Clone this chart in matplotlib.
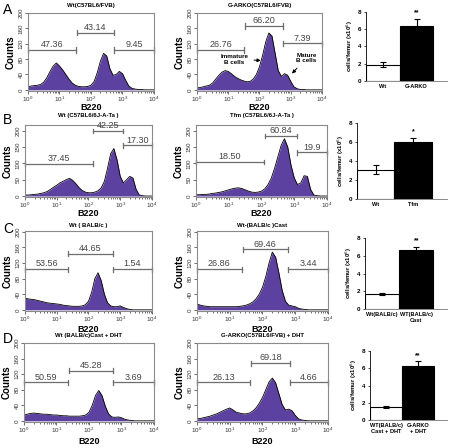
import numpy as np
import matplotlib
matplotlib.use("Agg")
import matplotlib.pyplot as plt
from matplotlib.ticker import LogLocator, NullFormatter

plt.rcParams["font.family"] = ["Liberation Sans", "DejaVu Sans"]

# ========================
# data
# ========================
# log10 B220 grid, 10^0 .. 10^4
LOGX = np.linspace(0, 4, 41)

A1 = [8, 10, 11, 12, 14, 20, 32, 48, 62, 70, 62, 52, 40, 28, 18, 12, 9, 8, 8, 9,
      12, 22, 45, 75, 95, 88, 55, 38, 40, 48, 42, 25, 10, 4, 2, 1, 1, 0, 0, 0, 0]
A2 = [5, 6, 8, 10, 12, 18, 28, 38, 46, 50, 48, 42, 35, 30, 26, 23, 21, 22, 28, 40,
      60, 90, 125, 148, 140, 95, 50, 35, 42, 38, 22, 8, 3, 1, 1, 0, 0, 0, 0, 0, 0]
B1 = [3, 3, 4, 5, 6, 8, 10, 14, 20, 27, 33, 40, 45, 50, 54, 48, 38, 26, 17, 12,
      10, 10, 12, 16, 25, 45, 85, 130, 145, 110, 60, 40, 50, 60, 55, 20, 3, 1, 0, 0, 0]
B2 = [4, 4, 5, 5, 6, 8, 9, 11, 13, 16, 19, 22, 24, 25, 23, 19, 15, 12, 11, 12,
      15, 22, 35, 55, 85, 120, 155, 175, 150, 95, 55, 35, 40, 62, 60, 20, 3, 1, 0, 0, 0]
C1 = [30, 28, 27, 26, 24, 22, 20, 18, 17, 16, 15, 14, 12, 11, 10, 9, 9, 9, 10, 13,
      22, 45, 80, 95, 75, 40, 18, 10, 8, 8, 10, 6, 3, 1, 0, 0, 0, 0, 0, 0, 0]
C2 = [15, 12, 10, 9, 8, 8, 8, 8, 8, 8, 8, 8, 8, 9, 10, 12, 15, 20, 28, 40,
      58, 85, 120, 148, 135, 95, 50, 22, 12, 10, 8, 4, 2, 1, 0, 0, 0, 0, 0, 0, 0]
D1 = [15, 17, 19, 20, 19, 18, 17, 17, 16, 15, 15, 14, 13, 13, 12, 12, 12, 12, 13, 15,
      22, 40, 65, 78, 65, 38, 18, 10, 9, 10, 8, 4, 2, 1, 0, 0, 0, 0, 0, 0, 0]
D2 = [5, 6, 8, 10, 12, 15, 18, 22, 26, 30, 33, 28, 22, 20, 18, 18, 20, 25, 33, 45,
      60, 80, 100, 110, 98, 70, 42, 28, 30, 26, 14, 5, 2, 1, 0, 0, 0, 0, 0, 0, 0]

# gates: (label, log start, log end, counts level)
GATES_A1 = [("47.36", 0.0, 1.53, 104), ("43.14", 1.55, 2.73, 149), ("9.45", 2.73, 4.0, 104)]
GATES_A2 = [("26.76", 0.0, 1.51, 104), ("66.20", 1.54, 2.75, 166), ("7.39", 2.75, 4.0, 121)]
GATES_B1 = [("37.45", 0.0, 2.14, 99), ("42.25", 2.14, 3.1, 199), ("17.30", 3.1, 4.0, 155)]
GATES_B2 = [("18.50", 0.0, 2.08, 104), ("60.84", 2.12, 3.07, 184), ("19.9", 3.07, 4.0, 133)]
GATES_C1 = [("53.56", 0.0, 1.37, 104), ("44.65", 1.37, 2.76, 144), ("1.54", 2.76, 4.0, 104)]
GATES_C2 = [("26.86", 0.0, 1.36, 104), ("69.46", 1.39, 2.78, 155), ("3.44", 2.78, 4.0, 104)]
GATES_D1 = [("50.59", 0.0, 1.36, 99), ("45.28", 1.40, 2.75, 129), ("3.69", 2.75, 4.0, 99)]
GATES_D2 = [("26.13", 0.0, 1.63, 99), ("69.18", 1.66, 2.85, 148), ("4.66", 2.85, 4.0, 99)]

TITLES = ["Wt(C57BL6/FVB)", "G-ARKO(C57BL6/FVB)",
          "Wt (C57BL6/6J-A-Ta )", "Tfm (C57BL6/6J-A-Ta )",
          "Wt ( BALB/c )", "Wt-(BALB/c )Cast",
          "Wt (BALB/c)Cast + DHT", "G-ARKO(C57BL6/FVB) + DHT"]

# bar charts: cells/femur (x10^6)
BAR_LABELS = [["Wt", "G-ARKO"], ["Wt", "Tfm"],
              ["Wt(BALB/c)", "WT(BALB/c)\nCast"],
              ["WT(BALB/c)\nCast + DHT", "G-ARKO\n+ DHT"]]
BAR_MEAN = [[1.9, 6.4], [3.1, 6.05], [1.7, 6.65], [1.5, 6.3]]
BAR_ERR = [[0.3, 0.8], [0.45, 0.35], [0.15, 0.3], [0.1, 0.5]]
BAR_SIG = ["**", "*", "**", "**"]

# ========================
# layout (pixels)
# ========================
W, H = 452, 448
PURPLE = "#5d41a0"
GATE = "#6e6e6e"


def px_axes(fig, x0, x1, y0, y1):
    return fig.add_axes([x0 / W, 1 - y1 / H, (x1 - x0) / W, (y1 - y0) / H])


def hist_panel(ax, counts, gates, ytop, yticks):
    x = 10 ** LOGX
    ax.fill_between(x, counts, 0, color=PURPLE, lw=0)
    ax.plot(x, counts, color="black", lw=0.6)
    ax.set_xscale("log")
    ax.set_xlim(1, 1e4)
    ax.set_ylim(-3, ytop)
    ax.set_yticks(yticks)
    ax.set_yticklabels([str(v) for v in yticks], rotation=90, va="center")
    ax.xaxis.set_major_locator(LogLocator(base=10, numticks=5))
    ax.xaxis.set_minor_locator(LogLocator(base=10, subs=np.arange(2, 10), numticks=10))
    ax.xaxis.set_minor_formatter(NullFormatter())
    ax.tick_params(labelsize=4.5, length=2, width=0.5, pad=1, colors="#333333")
    ax.tick_params(which="minor", length=1.2, width=0.4)
    for s in ax.spines.values():
        s.set_color("#8a8a8a")
        s.set_linewidth(0.8)
    ax.set_ylabel("Counts", fontsize=7, fontweight="bold", labelpad=2)
    for lab, a, b, lev in gates:
        xa, xb = 10 ** a, 10 ** b
        ax.plot([xa, xb], [lev, lev], color=GATE, lw=0.9, clip_on=False)
        ax.plot([xa, xa], [lev - 7, lev + 7], color=GATE, lw=0.9, clip_on=False)
        ax.plot([xb, xb], [lev - 7, lev + 7], color=GATE, lw=0.9, clip_on=False)
        ax.text(10 ** ((a + b) / 2), lev + 2, lab, ha="center", va="bottom",
                fontsize=6.5, color="#444444")


def bar_panel(ax, labels, means, errs, sig):
    ax.bar([0, 1], means, width=1.0, color=["white", "black"],
           edgecolor="black", linewidth=0.8)
    ax.errorbar([0, 1], means, yerr=errs, fmt="none", ecolor="black",
                elinewidth=0.8, capsize=2, capthick=0.8)
    ax.text(1, means[1] + errs[1] + 0.3, sig, ha="center", va="bottom",
            fontsize=5, fontweight="bold")
    ax.set_xlim(-0.5, 1.9)
    ax.set_ylim(0, 8)
    ax.set_yticks([0, 2, 4, 6, 8])
    ax.set_xticks([0, 1])
    ax.set_xticklabels(labels, fontsize=4.1, fontweight="bold", linespacing=1.3)
    ax.tick_params(axis="y", labelsize=4.5, length=1.5, width=0.5, pad=2)
    ax.tick_params(axis="x", length=0, pad=2)
    for lab in ax.get_yticklabels():
        lab.set_fontweight("bold")
    ax.spines["top"].set_visible(False)
    ax.spines["right"].set_visible(False)
    ax.spines["left"].set_linewidth(0.6)
    ax.spines["bottom"].set_linewidth(0.6)
    ax.spines["bottom"].set_color("#777777")
    ax.set_ylabel("cells/femur (x10$^6$)", fontsize=4.3, fontweight="bold", labelpad=2)


fig = plt.figure(figsize=(W / 100, H / 100), dpi=100)

# rows: (letter, letter y, title y, hist top, hist bottom, B220 y,
#        hist1 x, hist2 x, bar x, bar y8, bar y0)
ROWS = [
    ("A", 3, 6, 13, 91, 108, (28, 154), (197, 322), (366, 447), 12, 81),
    ("B", 113, 115, 125, 197, 214, (25, 152), (196, 327), (357, 447), 123, 199),
    ("C", 222, 225, 231, 311, 329, (25, 152), (197, 328), (365, 447), 238, 309),
    ("D", 332, 335, 343, 422, 441, (24, 154), (197, 328), (370, 447), 351, 420),
]
HISTS = [(A1, GATES_A1, A2, GATES_A2, 200, [0, 40, 80, 120, 160, 200]),
         (B1, GATES_B1, B2, GATES_B2, 217, [0, 50, 100, 150, 200]),
         (C1, GATES_C1, C2, GATES_C2, 202, [0, 40, 80, 120, 160, 200]),
         (D1, GATES_D1, D2, GATES_D2, 200, [0, 40, 80, 120, 160, 200])]

for i, (letter, ly, ty, top, bot, xl, h1, h2, bx, by8, by0) in enumerate(ROWS):
    c1, g1, c2, g2, ytop, yt = HISTS[i]
    ax1 = px_axes(fig, h1[0], h1[1], top, bot)
    hist_panel(ax1, c1, g1, ytop, yt)
    ax2 = px_axes(fig, h2[0], h2[1], top, bot)
    hist_panel(ax2, c2, g2, ytop, yt)
    for k, h in enumerate((h1, h2)):
        fig.text((h[0] + h[1]) / 2 / W, 1 - ty / H, TITLES[2 * i + k], ha="center",
                 va="center", fontsize=4.3, fontweight="bold")
        fig.text((h[0] + h[1]) / 2 / W, 1 - xl / H, "B220", ha="center", va="center",
                 fontsize=6.5, fontweight="bold")
    axb = px_axes(fig, bx[0], bx[1], by8, by0)
    bar_panel(axb, BAR_LABELS[i], BAR_MEAN[i], BAR_ERR[i], BAR_SIG[i])
    fig.text(3 / W, 1 - ly / H, letter, fontsize=10, va="top", ha="left")
    if i == 0:
        # cell population arrows on G-ARKO panel
        ax2.annotate("Immature\nB cells", xy=(10 ** 2.13, 76), xytext=(10 ** 1.2, 80),
                     ha="center", va="center", fontsize=4.5, fontweight="bold",
                     arrowprops=dict(arrowstyle="-|>", color="black", lw=0.7,
                                     mutation_scale=5))
        ax2.annotate("Mature\nB cells", xy=(10 ** 2.98, 37), xytext=(10 ** 3.5, 83),
                     ha="center", va="center", fontsize=4.5, fontweight="bold",
                     arrowprops=dict(arrowstyle="-|>", color="black", lw=0.7,
                                     mutation_scale=5))

fig.savefig("out.png", dpi=100)
